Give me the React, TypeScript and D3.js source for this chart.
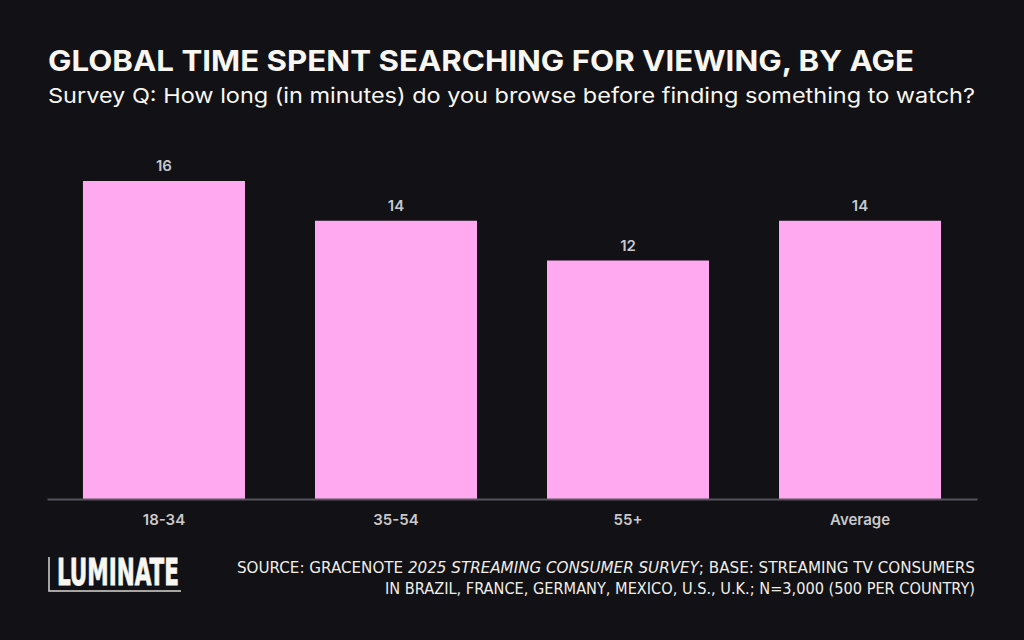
import { useRef, useEffect } from 'react';
import * as d3 from 'd3';

const categories = ['18-34', '35-54', '55+', 'Average'];
const minutes = [16, 14, 12, 14];

const title = 'GLOBAL TIME SPENT SEARCHING FOR VIEWING, BY AGE';
const subtitle = 'Survey Q: How long (in minutes) do you browse before finding something to watch?';

export default function App() {
  const svgRef = useRef<SVGSVGElement | null>(null);

  useEffect(() => {
    if (!svgRef.current) return;
    const svg = d3.select(svgRef.current);
    svg.selectAll('*').remove();

    const width = 1024;
    const height = 640;
    const font = 'Inter, "Noto Sans", sans-serif';

    svg.append('rect').attr('width', width).attr('height', height).attr('fill', '#111116');

    // Title block
    svg.append('text')
      .attr('x', 48).attr('y', 71)
      .attr('font-family', font).attr('font-size', 29).attr('font-weight', 700)
      .attr('fill', '#f8f6f0')
      .attr('textLength', 866).attr('lengthAdjust', 'spacingAndGlyphs')
      .text(title);

    svg.append('text')
      .attr('x', 48).attr('y', 103)
      .attr('font-family', font).attr('font-size', 20.5).attr('font-weight', 400)
      .attr('fill', '#f8f6f0')
      .attr('textLength', 927).attr('lengthAdjust', 'spacingAndGlyphs')
      .text(subtitle);

    // Scales
    const x = d3.scaleBand()
      .domain(categories)
      .range([47, 977])
      .paddingInner(0.3017)
      .paddingOuter(0.155);

    const y = d3.scaleLinear().domain([0, 16]).range([499, 181]);

    const g = svg.append('g');

    g.selectAll('.bar')
      .data(categories)
      .enter()
      .append('rect')
      .attr('class', 'bar')
      .attr('x', (d) => x(d) || 0)
      .attr('y', (_d, i) => y(minutes[i]))
      .attr('width', x.bandwidth())
      .attr('height', (_d, i) => y(0) - y(minutes[i]))
      .attr('fill', '#ffaaf0');

    g.selectAll('.val')
      .data(categories)
      .enter()
      .append('text')
      .attr('x', (d) => (x(d) || 0) + x.bandwidth() / 2)
      .attr('y', (_d, i) => y(minutes[i]) - 10)
      .attr('text-anchor', 'middle')
      .attr('font-family', font).attr('font-size', 15).attr('font-weight', 600)
      .attr('fill', '#c9c9cc')
      .text((_d, i) => String(minutes[i]));

    // Axis
    const axis = g.append('g')
      .attr('transform', `translate(0,${y(0)})`)
      .call(d3.axisBottom(x).tickSize(0).tickPadding(15));
    axis.select('.domain').attr('stroke', '#55555a').attr('stroke-width', 2);
    axis.selectAll('text')
      .attr('font-family', font).attr('font-size', 15).attr('font-weight', 600)
      .attr('fill', '#c9c9cc');

    // Logo
    const logo = svg.append('g');
    logo.append('path')
      .attr('d', 'M49,557 V591 H181')
      .attr('fill', 'none').attr('stroke', '#d8d6d0').attr('stroke-width', 1.5);
    logo.append('text')
      .attr('x', 57).attr('y', 584.5)
      .attr('font-family', '"DejaVu Sans Condensed", "DejaVu Sans", sans-serif')
      .attr('font-size', 38).attr('font-weight', 900)
      .attr('fill', '#f8f6f0')
      .attr('stroke', '#f8f6f0').attr('stroke-width', 0.8)
      .attr('textLength', 122).attr('lengthAdjust', 'spacingAndGlyphs')
      .text('LUMINATE');

    // Source
    const srcFont = '"Liberation Sans Narrow", "DejaVu Sans Condensed", sans-serif';
    const src = svg.append('text')
      .attr('x', 975).attr('y', 573)
      .attr('text-anchor', 'end')
      .attr('font-family', srcFont)
      .attr('font-size', 15.5)
      .attr('fill', '#f0eee8')
      .attr('textLength', 738).attr('lengthAdjust', 'spacingAndGlyphs');
    src.append('tspan').text('SOURCE: GRACENOTE ');
    src.append('tspan').attr('font-style', 'italic').text('2025 STREAMING CONSUMER SURVEY');
    src.append('tspan').text('; BASE: STREAMING TV CONSUMERS');

    svg.append('text')
      .attr('x', 975).attr('y', 594)
      .attr('text-anchor', 'end')
      .attr('font-family', srcFont)
      .attr('font-size', 15.5)
      .attr('fill', '#f0eee8')
      .attr('textLength', 590).attr('lengthAdjust', 'spacingAndGlyphs')
      .text('IN BRAZIL, FRANCE, GERMANY, MEXICO, U.S., U.K.; N=3,000 (500 PER COUNTRY)');
  }, []);

  return (
    <div style={{ position: 'absolute', left: 0, top: 0 }}>
      <svg ref={svgRef} width="1024" height="640" viewBox="0 0 1024 640" style={{ display: 'block' }} />
    </div>
  );
}
